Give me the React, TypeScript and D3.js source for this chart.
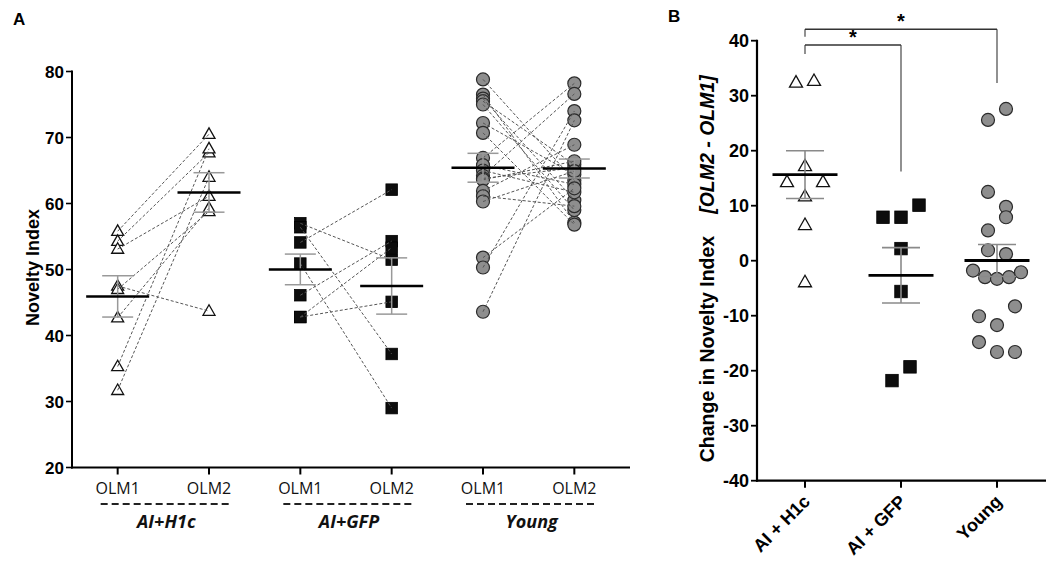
import React from 'react';
import * as d3 from 'd3';

// ---------- Panel A data ----------
const conditions = ['OLM1', 'OLM2'];
const groupsA = ['AI+H1c', 'AI+GFP', 'Young'];
const yTicksA = [20, 30, 40, 50, 60, 70, 80];

const h1cOLM1 = [55.8, 54.3, 53.1, 47.5, 47.0, 42.7, 35.3, 31.7];
const h1cOLM2 = [70.5, 67.7, 61.1, 43.7, 58.8, 59.3, 68.3, 64.0];
const gfpOLM1 = [57.0, 56.4, 54.1, 50.9, 46.1, 42.8, 42.8];
const gfpOLM2 = [51.5, 37.2, 62.1, 29.0, 54.3, 53.3, 45.1];
const youngOLM1 = [78.8, 76.5, 75.9, 75.5, 75.0, 72.2, 70.7, 66.9, 65.8, 65.0, 64.2, 63.8, 63.6, 61.9, 61.1, 60.3, 51.8, 50.3, 43.6];
const youngOLM2 = [63.5, 57.1, 60.5, 65.9, 59.0, 64.4, 56.8, 78.2, 62.9, 61.7, 76.6, 65.4, 66.4, 68.9, 59.6, 64.9, 62.3, 74.0, 72.6];

// ---------- Panel B data ----------
const groupsB = ['AI + H1c', 'AI + GFP', 'Young'];
const yTicksB = [-40, -30, -20, -10, 0, 10, 20, 30, 40];
const deltaH1c = [32.4, 32.7, 14.3, 17.2, 14.3, 11.7, 6.5, -3.9];
const deltaGFP = [7.9, 7.9, 10.1, 2.2, -5.6, -21.8, -19.3];
const deltaYoung = [25.6, 27.6, 12.5, 9.8, 5.5, 7.9, 1.9, 1.2, -1.8, -3.0, -3.3, -3.0, -2.1, -10.1, -11.7, -8.3, -14.8, -16.6, -16.6];
// significance brackets (values in axis units)
const comparisons = [
  { from: 0, to: 1, top: 39.2, leftEnd: 37.6, rightEnd: 16.2, label: '*' },
  { from: 0, to: 2, top: 42.1, leftEnd: 40.7, rightEnd: 32.3, label: '*' },
];

type Shape = 'tri' | 'square' | 'circle';

const FONT = "'Liberation Sans', Arial, Helvetica, sans-serif";
const FONT2 = "'Open Sans', 'Liberation Sans', Arial, sans-serif";

function sem(v: number[]) {
  return (d3.deviation(v) as number) / Math.sqrt(v.length);
}

function Marker({ shape, x, y, big }: { shape: Shape; x: number; y: number; big?: boolean }) {
  if (shape === 'tri') {
    const w = big ? 13 : 12;
    const h = big ? 11.5 : 10.5;
    return (
      <path
        d={`M${x},${y - h * 0.6}L${x + w / 2},${y + h * 0.4}L${x - w / 2},${y + h * 0.4}Z`}
        fill="#fff"
        stroke="#111"
        strokeWidth={1.3}
        strokeLinejoin="miter"
      />
    );
  }
  if (shape === 'square') {
    const s = big ? 12.5 : 11.5;
    return <rect x={x - s / 2} y={y - s / 2} width={s} height={s} fill="#0d0d0d" stroke="#000" strokeWidth={0.8} />;
  }
  return <circle cx={x} cy={y} r={6.5} fill="#8e8e8e" stroke="#2b2b2b" strokeWidth={1.2} />;
}

// GraphPad-like row spreading of points with similar values
function rowOffsets(values: number[], threshold: number, pitch: number, maxWidth: number) {
  const order = d3.range(values.length).sort((a, b) => values[b] - values[a]);
  const rows: number[][] = [];
  let cur: number[] = [];
  let start = 0;
  order.forEach((i) => {
    if (cur.length && start - values[i] <= threshold + 1e-9) cur.push(i);
    else {
      if (cur.length) rows.push(cur);
      cur = [i];
      start = values[i];
    }
  });
  if (cur.length) rows.push(cur);
  const off = new Array(values.length).fill(0);
  rows.forEach((r) => {
    r.sort((a, b) => a - b);
    const n = r.length;
    const p = n > 1 ? Math.min(pitch, maxWidth / (n - 1)) : 0;
    r.forEach((i, k) => {
      off[i] = (k - (n - 1) / 2) * p;
    });
  });
  return off;
}

function PanelA() {
  const keys = groupsA.flatMap((g) => conditions.map((c) => `${g}|${c}`));
  const x = d3.scalePoint<string>().domain(keys).range([72, 620]).padding(0.5);
  const y = d3.scaleLinear().domain([20, 80]).range([467.5, 71.5]);
  const axisX0 = 72;
  const axisX1 = 630;
  const data: { g: string; a: number[]; b: number[]; shape: Shape }[] = [
    { g: groupsA[0], a: h1cOLM1, b: h1cOLM2, shape: 'tri' },
    { g: groupsA[1], a: gfpOLM1, b: gfpOLM2, shape: 'square' },
    { g: groupsA[2], a: youngOLM1, b: youngOLM2, shape: 'circle' },
  ];
  return (
    <g>
      <text x={13} y={25} fontFamily={FONT} fontWeight="bold" fontSize={17}>A</text>
      {/* y axis */}
      <line x1={axisX0} x2={axisX0} y1={y(80) - 1} y2={y(20) + 1} stroke="#000" strokeWidth={2} />
      {yTicksA.map((t) => (
        <g key={t}>
          <line x1={axisX0 - 6} x2={axisX0} y1={y(t)} y2={y(t)} stroke="#000" strokeWidth={1.6} />
          <text x={axisX0 - 8} y={y(t)} dy="0.36em" textAnchor="end" fontFamily={FONT} fontWeight="bold" fontSize={17}>
            {t}
          </text>
        </g>
      ))}
      <text
        transform={`translate(39,${y(50) - 2}) rotate(-90)`}
        textAnchor="middle"
        fontFamily={FONT}
        fontWeight="bold"
        fontSize={18}
      >
        Novelty Index
      </text>
      {/* x axis */}
      <line x1={axisX0 - 1} x2={axisX1} y1={y(20)} y2={y(20)} stroke="#000" strokeWidth={2} />
      {keys.map((k) => (
        <g key={k}>
          <line x1={x(k)} x2={x(k)} y1={y(20)} y2={y(20) + 7} stroke="#000" strokeWidth={2} />
          <text x={x(k)} y={y(20) + 26} textAnchor="middle" fontFamily={FONT2} fontSize={16} fill="#111">
            {k.split('|')[1]}
          </text>
        </g>
      ))}
      {groupsA.map((g) => {
        const x1 = x(`${g}|OLM1`) as number;
        const x2 = x(`${g}|OLM2`) as number;
        const mid = (x1 + x2) / 2 + 3;
        return (
          <g key={g}>
            <line x1={x1 - 17} x2={x2 + 22} y1={504} y2={504} stroke="#222" strokeWidth={2} strokeDasharray="7,4" />
            <text x={mid} y={528} textAnchor="middle" fontFamily={FONT2} fontWeight="bold" fontStyle="italic" fontSize={18} fill="#111">
              {g}
            </text>
          </g>
        );
      })}
      {/* markers */}
      {data.map((d) => {
        const x1 = x(`${d.g}|OLM1`) as number;
        const x2 = x(`${d.g}|OLM2`) as number;
        return (
          <g key={d.g}>
            {d.a.map((v, i) => (
              <Marker key={'a' + i} shape={d.shape} x={x1} y={y(v)} />
            ))}
            {d.b.map((v, i) => (
              <Marker key={'b' + i} shape={d.shape} x={x2} y={y(v)} />
            ))}
            {d.a.map((v, i) => (
              <line
                key={'l' + i}
                x1={x1}
                y1={y(v)}
                x2={x2}
                y2={y(d.b[i])}
                stroke="#555"
                strokeWidth={1}
                strokeDasharray="3,2"
              />
            ))}
            {[
              { xx: x1, v: d.a },
              { xx: x2, v: d.b },
            ].map((s, j) => {
              const m = d3.mean(s.v) as number;
              const e = sem(s.v);
              return (
                <g key={'m' + j}>
                  <line x1={s.xx} x2={s.xx} y1={y(m + e)} y2={y(m - e)} stroke="#999" strokeWidth={1.5} />
                  <line x1={s.xx - 15.5} x2={s.xx + 15.5} y1={y(m + e)} y2={y(m + e)} stroke="#999" strokeWidth={1.5} />
                  <line x1={s.xx - 15.5} x2={s.xx + 15.5} y1={y(m - e)} y2={y(m - e)} stroke="#999" strokeWidth={1.5} />
                  <line x1={s.xx - 31.5} x2={s.xx + 31.5} y1={y(m)} y2={y(m)} stroke="#000" strokeWidth={2.5} />
                </g>
              );
            })}
          </g>
        );
      })}
    </g>
  );
}

function PanelB() {
  const x = d3.scalePoint<string>().domain(groupsB).range([757, 1045]).padding(0.5);
  const y = d3.scaleLinear().domain([-40, 40]).range([480.7, 40.7]);
  const axisX0 = 757;
  const data: { g: string; v: number[]; shape: Shape }[] = [
    { g: groupsB[0], v: deltaH1c, shape: 'tri' },
    { g: groupsB[1], v: deltaGFP, shape: 'square' },
    { g: groupsB[2], v: deltaYoung, shape: 'circle' },
  ];
  return (
    <g>
      <text x={668} y={22} fontFamily={FONT} fontWeight="bold" fontSize={17}>B</text>
      <line x1={axisX0} x2={axisX0} y1={y(40) - 1} y2={y(-40) + 1} stroke="#000" strokeWidth={2.2} />
      {yTicksB.map((t) => (
        <g key={t}>
          <line x1={axisX0 - 6} x2={axisX0} y1={y(t)} y2={y(t)} stroke="#000" strokeWidth={1.8} />
          <text x={axisX0 - 8} y={y(t)} dy="0.36em" textAnchor="end" fontFamily={FONT} fontWeight="bold" fontSize={18}>
            {t}
          </text>
        </g>
      ))}
      <text
        transform={`translate(714,${y(0) + 8}) rotate(-90)`}
        textAnchor="middle"
        fontFamily={FONT}
        fontWeight="bold"
        fontSize={19.5}
      >
        Change in Novelty Index
        <tspan dx={22} fontStyle="italic">[OLM2 - OLM1]</tspan>
      </text>
      <line x1={axisX0 - 1} x2={1046} y1={y(-40)} y2={y(-40)} stroke="#000" strokeWidth={2.2} />
      {groupsB.map((g) => (
        <g key={g}>
          <line x1={x(g)} x2={x(g)} y1={y(-40)} y2={y(-40) + 7} stroke="#000" strokeWidth={2} />
          <text
            transform={`translate(${(x(g) as number) + 6},${y(-40) + 22}) rotate(-45)`}
            textAnchor="end"
            fontFamily={FONT}
            fontWeight="bold"
            fontSize={18}
          >
            {g}
          </text>
        </g>
      ))}
      {data.map((d) => {
        const cx = x(d.g) as number;
        const off = rowOffsets(d.v, 3.55, 18, 48);
        const m = d3.mean(d.v) as number;
        const e = sem(d.v);
        return (
          <g key={d.g}>
            {d.v.map((v, i) => (
              <Marker key={i} shape={d.shape} x={cx + off[i]} y={y(v)} big />
            ))}
            <line x1={cx} x2={cx} y1={y(m + e)} y2={y(m - e)} stroke="#8a8a8a" strokeWidth={1.6} />
            <line x1={cx - 19} x2={cx + 19} y1={y(m + e)} y2={y(m + e)} stroke="#8a8a8a" strokeWidth={1.6} />
            <line x1={cx - 19} x2={cx + 19} y1={y(m - e)} y2={y(m - e)} stroke="#8a8a8a" strokeWidth={1.6} />
            <line x1={cx - 32.5} x2={cx + 32.5} y1={y(m)} y2={y(m)} stroke="#000" strokeWidth={2.8} />
          </g>
        );
      })}
      {comparisons.map((c, i) => {
        const xa = x(groupsB[c.from]) as number;
        const xb = x(groupsB[c.to]) as number;
        return (
          <g key={i}>
            <line x1={xa} x2={xa} y1={y(c.top)} y2={y(c.leftEnd)} stroke="#555" strokeWidth={1.3} />
            <line x1={xb} x2={xb} y1={y(c.top)} y2={y(c.rightEnd)} stroke="#555" strokeWidth={1.3} />
            <line x1={xa} x2={xb} y1={y(c.top)} y2={y(c.top)} stroke="#333" strokeWidth={1.5} />
            <text x={(xa + xb) / 2} y={y(c.top) - 1} textAnchor="middle" fontFamily={FONT} fontWeight="bold" fontSize={20}>
              {c.label}
            </text>
          </g>
        );
      })}
    </g>
  );
}

export default function App() {
  return (
    <svg
      width={1050}
      height={572}
      viewBox="0 0 1050 572"
      style={{ position: 'absolute', left: 0, top: 0, background: '#fff' }}
    >
      <rect x={0} y={0} width={1050} height={572} fill="#fff" />
      <PanelA />
      <PanelB />
    </svg>
  );
}
